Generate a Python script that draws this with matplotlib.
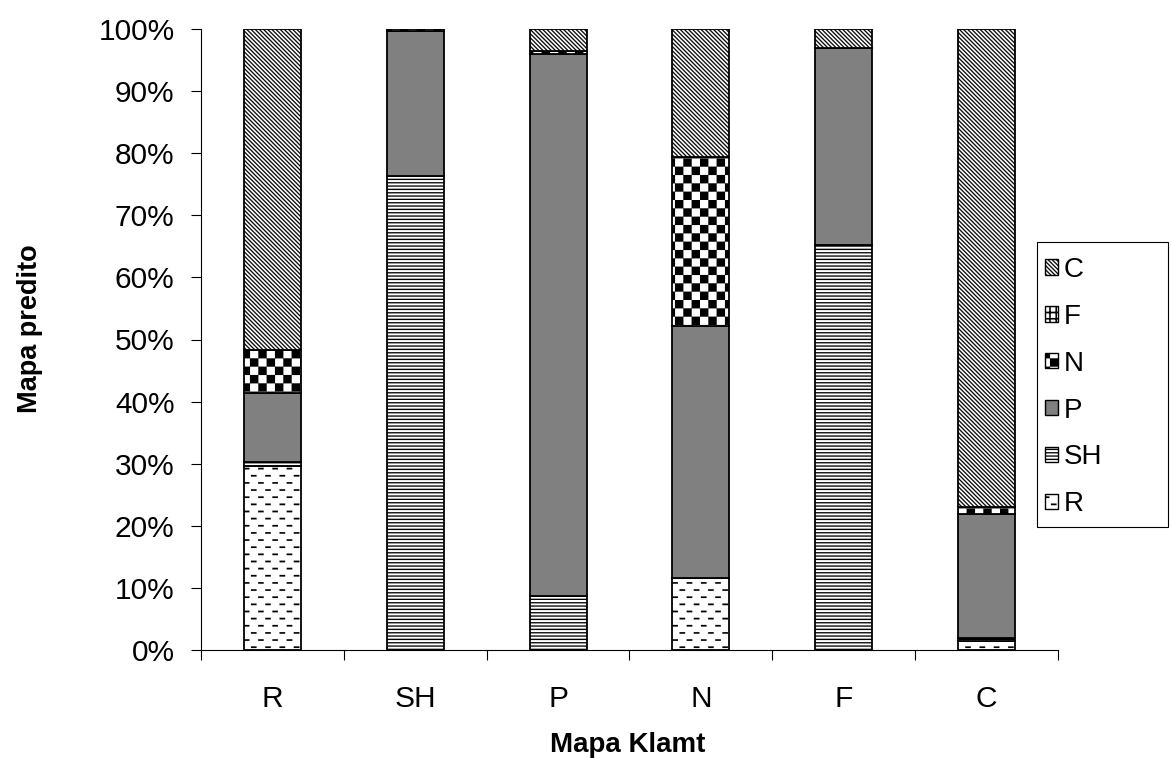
import warnings
import numpy as np
import matplotlib
matplotlib.use("Agg")
import matplotlib.pyplot as plt
import matplotlib.hatch as mhatch
from matplotlib.path import Path
from matplotlib.patches import Rectangle

warnings.filterwarnings("ignore", message=".*hatch must consist.*")

# ---- data -------------------------------------------------------------
categories = ["R", "SH", "P", "N", "F", "C"]          # Mapa Klamt classes
classes = ["R", "SH", "P", "N", "F", "C"]             # stacked bottom -> top
share_R = [29.6, 0.0, 0.0, 11.6, 0.0, 1.5]
share_SH = [0.7, 76.4, 8.7, 0.0, 65.2, 0.5]
share_P = [11.1, 23.2, 87.3, 40.6, 31.8, 19.9]
share_N = [6.9, 0.4, 0.4, 27.2, 0.0, 1.2]
share_F = [0.0, 0.0, 0.0, 0.0, 0.0, 0.0]
share_C = [51.7, 0.0, 3.6, 20.6, 3.0, 76.9]
y_ticks = list(range(0, 101, 10))


# ---- monochrome fill patterns as custom hatches ------------------------
def _rect(x0, y0, w, h):
    return [(x0, y0), (x0 + w, y0), (x0 + w, y0 + h), (x0, y0 + h), (x0, y0)]


def _para_down(x0, t):
    # stripe running from top-left to bottom-right, horizontal thickness t
    return [(x0, 1.0), (x0 + 1.0, 0.0), (x0 + 1.0 + t, 0.0), (x0 + t, 1.0), (x0, 1.0)]


def _diag_polys():
    n = 24
    return [_para_down(k / n, 0.016) for k in range(-n - 1, n + 1)]


def _grid_polys():
    n = 16
    polys = []
    for k in range(n + 1):
        polys.append(_rect(-0.01, k / n - 0.0075, 1.02, 0.015))
        polys.append(_rect(k / n - 0.0075, -0.01, 0.015, 1.02))
    return polys


def _checker_polys():
    n = 12
    c = 1.0 / n
    return [_rect(i * c, j * c, c, c)
            for i in range(n) for j in range(n) if (i + j) % 2 == 0]


def _lines_polys():
    n = 30
    return [_rect(-0.01, k / n, 1.02, 0.012) for k in range(n)]


def _dash_polys():
    rows, cols = 14, 7
    polys = []
    for r in range(rows):
        shift = 0.5 / cols if r % 2 else 0.0
        for c in range(cols):
            polys.append(_rect(c / cols + shift + 0.01, r / rows + 0.02, 0.055, 0.016))
    return polys


def _make_pattern(symbol, builder):
    class _Tile(mhatch.HatchPatternBase):
        def __init__(self, hatch, density):
            self.polys = builder() if symbol in hatch else []
            self.num_vertices = 5 * len(self.polys)

        def set_vertices_and_codes(self, vertices, codes):
            vertices[:] = np.asarray(self.polys, dtype=float).reshape(-1, 2)
            codes[:] = np.tile([Path.MOVETO, Path.LINETO, Path.LINETO,
                                Path.LINETO, Path.CLOSEPOLY], len(self.polys))
    return _Tile


for sym, fn in [("d", _diag_polys), ("g", _grid_polys), ("k", _checker_polys),
                ("h", _lines_polys), ("r", _dash_polys)]:
    mhatch._hatch_types.append(_make_pattern(sym, fn))

plt.rcParams["hatch.linewidth"] = 0.1
plt.rcParams["hatch.color"] = "black"
plt.rcParams["font.family"] = ["Liberation Sans", "DejaVu Sans"]

styles = {
    "R": dict(color="white", hatch="r"),
    "SH": dict(color="white", hatch="h"),
    "P": dict(color="#808080", hatch=None),
    "N": dict(color="white", hatch="k"),
    "F": dict(color="white", hatch="g"),
    "C": dict(color="white", hatch="d"),
}

# ---- figure -------------------------------------------------------------
fig = plt.figure(figsize=(11.72, 7.58), dpi=100)
ax = fig.add_axes([201 / 1172, 108 / 758, 857 / 1172, 621 / 758])

x = np.arange(len(categories))
series = [share_R, share_SH, share_P, share_N, share_F, share_C]
bottom = np.zeros(len(categories))
for name, vals in zip(classes, series):
    vals = np.asarray(vals, dtype=float)
    bars = ax.bar(x, vals, width=0.4, bottom=bottom, facecolor=styles[name]["color"],
                  edgecolor="black", linewidth=1.3, hatch=styles[name]["hatch"],
                  label=name, zorder=2)
    for b, v in zip(bars, vals):
        if v == 0:
            b.set_visible(False)
    bottom += vals

ax.set_xlim(-0.5, len(categories) - 0.5)
ax.set_ylim(0, 100)
ax.set_yticks(y_ticks)
ax.set_yticklabels([f"{v}%" for v in y_ticks])
ax.set_xticks(x)
ax.set_xticklabels(categories)
ax.set_xticks(np.arange(len(categories) + 1) - 0.5, minor=True)
ax.tick_params(axis="x", which="major", length=0, pad=25, labelsize=21.5)
ax.tick_params(axis="x", which="minor", length=7, width=0.8, direction="out")
ax.tick_params(axis="y", which="major", length=7, width=0.8, pad=12, labelsize=21.5)
for s in ("top", "right"):
    ax.spines[s].set_visible(False)
for s in ("left", "bottom"):
    ax.spines[s].set_linewidth(0.8)
    ax.spines[s].set_color("black")

fig.text(628 / 1172, 1 - 745 / 758, "Mapa Klamt", ha="center", va="center",
         fontsize=20, fontweight="bold")
fig.text(30 / 1172, 1 - 329 / 758, "Mapa predito", ha="center", va="center",
         rotation=90, fontsize=19.5, fontweight="bold")

# legend: top entry first, with small pattern swatches
order = ["C", "F", "N", "P", "SH", "R"]
swatches = [Rectangle((0, 0), 1, 1, facecolor=styles[n]["color"], edgecolor="black",
                      linewidth=1.0, hatch=styles[n]["hatch"]) for n in order]
leg = fig.legend(swatches, order, loc="upper left",
                 bbox_to_anchor=(1045 / 1172, 1 - 257 / 758), frameon=False,
                 fontsize=20, handlelength=0.47, handleheight=0.47,
                 handletextpad=0.2, labelspacing=0.75, borderpad=0,
                 borderaxespad=0)
fig.patches.append(Rectangle((1037 / 1172, 1 - 527 / 758), 131 / 1172, 285 / 758,
                             transform=fig.transFigure, fill=False,
                             edgecolor="black", linewidth=0.8))

fig.savefig("out.png", dpi=100)
